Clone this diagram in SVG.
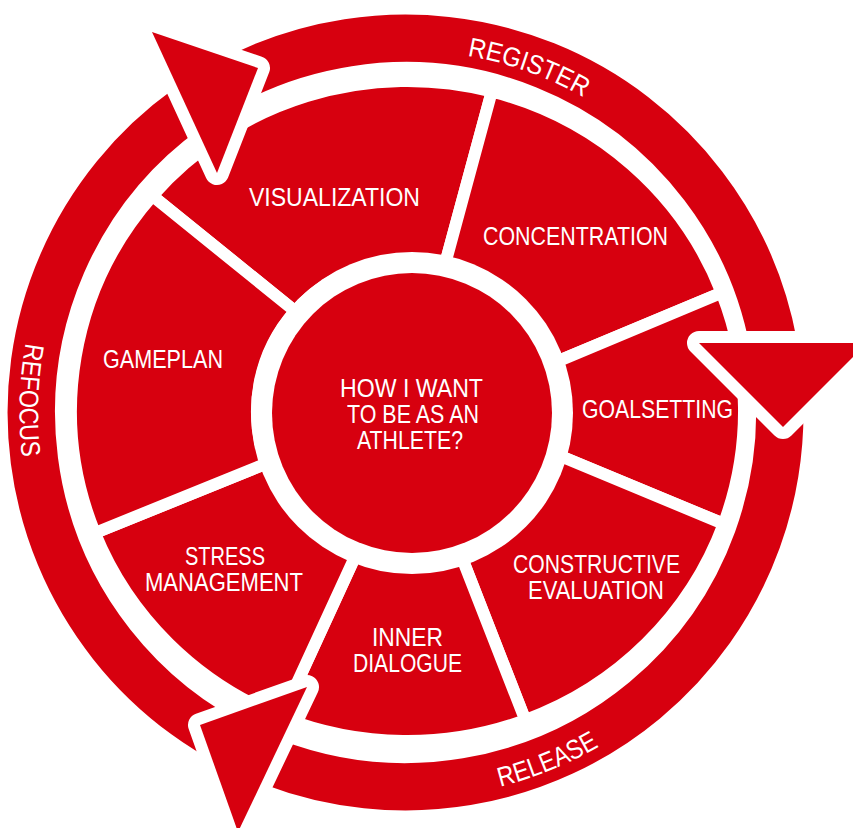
<svg xmlns="http://www.w3.org/2000/svg" width="853" height="828" viewBox="0 0 853 828">
<defs>
<style>
.sector{fill:#D7000F;stroke:#fff;stroke-width:12;stroke-linejoin:miter}
.lbl{font-family:"Liberation Sans",Arial,sans-serif;font-size:25px;fill:#fff;text-anchor:middle}
.rlbl{font-family:"Liberation Sans",Arial,sans-serif;font-size:27px;fill:#fff;text-anchor:middle}
.arc{fill:none;stroke:#D7000F;stroke-width:47.5}
.head{fill:#D7000F;stroke:#fff;stroke-width:24;stroke-linejoin:round;paint-order:stroke}
</style>
<path id="cw" d="M 43.5 412.5 A 362 362 0 1 1 767.5 412.5 A 362 362 0 1 1 43.5 412.5"/>
<path id="ccw" d="M 405.5 26.5 A 386 386 0 1 0 405.5 798.5 A 386 386 0 1 0 405.5 26.5"/>
</defs>
<rect width="853" height="828" fill="#fff"/>

<g id="visualization">
<path class="sector" d="M 295.0 311.2 L 152.4 195.8 A 336.5 330 0 0 1 491.8 91.5 L 444.6 265.8 A 150 150 0 0 0 295.0 311.2 Z"/>
<text class="lbl" x="334.5" y="206" textLength="171" lengthAdjust="spacingAndGlyphs">VISUALIZATION</text>
</g>
<g id="concentration">
<path class="sector" d="M 444.6 265.8 L 491.8 91.5 A 336.5 330 0 0 1 721.7 292.7 L 549.7 364.6 A 150 150 0 0 0 444.6 265.8 Z"/>
<text class="lbl" x="575.5" y="245" textLength="185" lengthAdjust="spacingAndGlyphs">CONCENTRATION</text>
</g>
<g id="goalsetting">
<path class="sector" d="M 549.7 364.6 L 721.7 292.7 A 336.5 330 0 0 1 723.7 523.9 L 551.2 452.3 A 150 150 0 0 0 549.7 364.6 Z"/>
<text class="lbl" x="657.5" y="418" textLength="151" lengthAdjust="spacingAndGlyphs">GOALSETTING</text>
</g>
<g id="constructive-evaluation">
<path class="sector" d="M 551.2 452.3 L 723.7 523.9 A 336.5 330 0 0 1 525.3 720.1 L 459.5 551.5 A 150 150 0 0 0 551.2 452.3 Z"/>
<text class="lbl" x="596.5" y="573" textLength="167" lengthAdjust="spacingAndGlyphs">CONSTRUCTIVE</text>
<text class="lbl" x="596" y="599" textLength="136" lengthAdjust="spacingAndGlyphs">EVALUATION</text>
</g>
<g id="inner-dialogue">
<path class="sector" d="M 459.5 551.5 L 525.3 720.1 A 336.5 330 0 0 1 281.4 717.0 L 357.0 552.4 A 150 150 0 0 0 459.5 551.5 Z"/>
<text class="lbl" x="407.5" y="646" textLength="71" lengthAdjust="spacingAndGlyphs">INNER</text>
<text class="lbl" x="407.5" y="672" textLength="109" lengthAdjust="spacingAndGlyphs">DIALOGUE</text>
</g>
<g id="stress-management">
<path class="sector" d="M 357.0 552.4 L 281.4 717.0 A 336.5 330 0 0 1 94.9 533.0 L 266.5 463.5 A 150 150 0 0 0 357.0 552.4 Z"/>
<text class="lbl" x="225" y="565" textLength="80" lengthAdjust="spacingAndGlyphs">STRESS</text>
<text class="lbl" x="224" y="591" textLength="158" lengthAdjust="spacingAndGlyphs">MANAGEMENT</text>
</g>
<g id="gameplan">
<path class="sector" d="M 266.5 463.5 L 94.9 533.0 A 336.5 330 0 0 1 152.4 195.8 L 295.0 311.2 A 150 150 0 0 0 266.5 463.5 Z"/>
<text class="lbl" x="163" y="368" textLength="120" lengthAdjust="spacingAndGlyphs">GAMEPLAN</text>
</g>
<g id="center">
<circle cx="412" cy="413" r="161" fill="#fff"/>
<circle cx="412" cy="413" r="140" fill="#D7000F"/>
<text class="lbl" x="411.5" y="397" textLength="143" lengthAdjust="spacingAndGlyphs">HOW I WANT</text>
<text class="lbl" x="413" y="423" textLength="132" lengthAdjust="spacingAndGlyphs">TO BE AS AN</text>
<text class="lbl" x="410" y="449" textLength="106" lengthAdjust="spacingAndGlyphs">ATHLETE?</text>
</g>

<g id="connectors">
<g id="register">
<path class="arc" d="M 187.1 108.6 A 374.25 374.25 0 0 1 773.6 344.9"/>
<text class="rlbl"><textPath href="#cw" startOffset="692.5" textLength="124" lengthAdjust="spacingAndGlyphs">REGISTER</textPath></text>
</g>
<g id="release">
<path class="arc" d="M 773.6 344.9 A 374.25 374.25 0 0 1 272.0 762.1"/>
<text class="rlbl"><textPath href="#ccw" startOffset="1361.5" textLength="107" lengthAdjust="spacingAndGlyphs">RELEASE</textPath></text>
</g>
<g id="refocus">
<path class="arc" d="M 272.0 762.1 A 374.25 374.25 0 0 1 187.1 108.6"/>
<text class="rlbl"><textPath href="#ccw" startOffset="593.5" textLength="115" lengthAdjust="spacingAndGlyphs">REFOCUS</textPath></text>
</g>
<polygon class="head" points="152,32 258,68 217,173"/>
<polygon class="head" points="699,343 867,343 783,427"/>
<polygon class="head" points="200,725 307,687 238,832"/>
</g>
</svg>
